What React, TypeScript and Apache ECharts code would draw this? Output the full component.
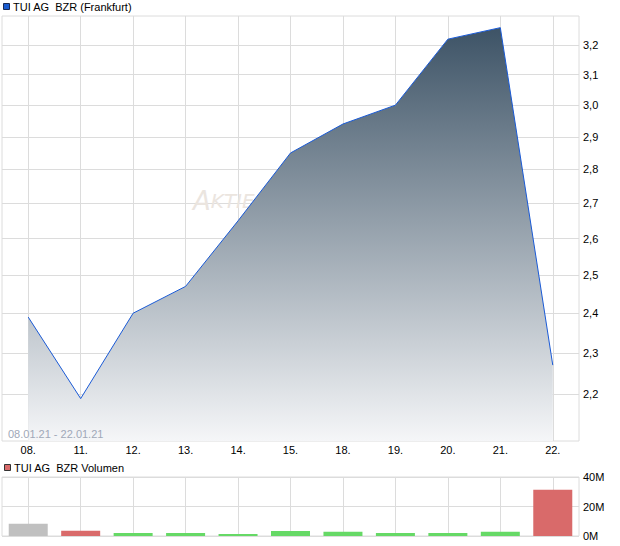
import React, { useEffect, useRef } from 'react';
import * as echarts from 'echarts';

const dates = ['08.', '11.', '12.', '13.', '14.', '15.', '18.', '19.', '20.', '21.', '22.'];
const prices = [2.39, 2.19, 2.4, 2.47, 2.65, 2.85, 2.94, 3.0, 3.22, 3.26, 2.27];
const volumesM = [8.3, 3.5, 2.1, 2.1, 1.4, 3.4, 2.8, 2.1, 2.1, 2.8, 31.3];
const priceTicks = [2.2, 2.3, 2.4, 2.5, 2.6, 2.7, 2.8, 2.9, 3.0, 3.1, 3.2];
const priceMin = 2.0926;
const priceMax = 3.301;
const volumeMax = 40;
const volumeStep = 20;
const titleMain = 'TUI AG  BZR (Frankfurt)';
const titleVol = 'TUI AG  BZR Volumen';
const rangeLabel = '08.01.21 - 22.01.21';
const watermark = 'AKTIENCHECK';

const FONT = "'Liberation Sans', Arial, sans-serif";
const WM_FONT = "'DejaVu Sans', sans-serif";
const GRID_COLOR = '#dcdcdc';

export default function App() {
  const ref = useRef<HTMLDivElement>(null);
  useEffect(() => {
    if (!ref.current) return;
    const chart = echarts.init(ref.current, undefined, { renderer: 'svg' });
    const volColors = volumesM.map((_, i) =>
      i === 0 ? '#c0c0c0' : prices[i] >= prices[i - 1] ? '#66d966' : '#d96a6a'
    );
    const option: any = {
      animation: false,
      textStyle: { fontFamily: FONT },
      grid: [
        { left: 2, right: 41, top: 16, height: 425, show: true, borderColor: GRID_COLOR, borderWidth: 1 },
        { left: 2, right: 41, top: 477, height: 59, show: true, borderColor: GRID_COLOR, borderWidth: 1 },
      ],
      xAxis: [
        {
          type: 'category', gridIndex: 0, data: dates, boundaryGap: true,
          axisLine: { show: false },
          axisTick: { show: true, alignWithLabel: true, inside: true, length: 425, interval: 0, lineStyle: { color: GRID_COLOR } },
          axisLabel: { color: '#000', fontSize: 11, margin: 3, interval: 0, fontFamily: FONT },
          splitLine: { show: false },
        },
        {
          type: 'category', gridIndex: 1, data: dates, boundaryGap: true,
          axisLine: { show: false },
          axisTick: { show: true, alignWithLabel: true, inside: true, length: 59, interval: 0, lineStyle: { color: GRID_COLOR } },
          axisLabel: { show: false },
          splitLine: { show: false },
        },
      ],
      yAxis: [
        {
          type: 'log', gridIndex: 0, position: 'right', min: priceMin, max: priceMax, logBase: 10,
          axisLine: { show: false },
          axisTick: { show: false, customValues: priceTicks },
          axisLabel: {
            customValues: priceTicks, color: '#000', fontSize: 11, margin: 4, fontFamily: FONT,
            formatter: (v: number) => v.toFixed(1).replace('.', ','),
          },
          splitLine: { show: true, lineStyle: { color: GRID_COLOR } },
        },
        {
          type: 'value', gridIndex: 1, position: 'right', min: 0, max: volumeMax, interval: volumeStep,
          axisLine: { show: false }, axisTick: { show: false },
          axisLabel: { color: '#000', fontSize: 11, margin: 4, fontFamily: FONT, formatter: (v: number) => v + 'M' },
          splitLine: { show: true, lineStyle: { color: GRID_COLOR } },
        },
      ],
      series: [
        {
          type: 'line', xAxisIndex: 0, yAxisIndex: 0, data: prices, showSymbol: false, z: 2,
          lineStyle: { color: '#1a5ad6', width: 1 },
          areaStyle: {
            origin: 'start', opacity: 1,
            color: new echarts.graphic.LinearGradient(0, 0, 0, 1, [
              { offset: 0, color: '#3d5366' },
              { offset: 1, color: '#f5f6f8' },
            ]),
          },
        },
        {
          type: 'bar', xAxisIndex: 1, yAxisIndex: 1, barWidth: 39,
          data: volumesM.map((v, i) => ({ value: v, itemStyle: { color: volColors[i] } })),
        },
      ],
      graphic: [
        { type: 'rect', shape: { x: 3.5, y: 3.5, width: 6, height: 6 }, style: { fill: '#1a5cd0', stroke: '#1a2a55', lineWidth: 1 }, z: 10 },
        { type: 'text', x: 13, y: 7, style: { text: titleMain, fill: '#000', fontSize: 11, fontFamily: FONT, verticalAlign: 'middle' }, z: 10 },
        { type: 'rect', shape: { x: 4.5, y: 464.5, width: 6, height: 6 }, style: { fill: '#d96a6a', stroke: '#333', lineWidth: 1 }, z: 10 },
        { type: 'text', x: 14, y: 468, style: { text: titleVol, fill: '#000', fontSize: 11, fontFamily: FONT, verticalAlign: 'middle' }, z: 10 },
        { type: 'text', x: 8, y: 434, style: { text: rangeLabel, fill: '#a0a8b8', fontSize: 11, fontFamily: FONT, verticalAlign: 'middle' }, z: 10 },
        {
          type: 'text', x: 193, y: 214, z: 1,
          style: {
            text: '{a|A}{b|' + watermark.slice(1) + '}', fill: '#ebe5df', fontStyle: 'italic', fontFamily: WM_FONT,
            verticalAlign: 'bottom',
            rich: {
              a: { fontSize: 26, fill: '#ebe5df', fontStyle: 'italic', fontFamily: WM_FONT },
              b: { fontSize: 20, fill: '#ebe5df', fontStyle: 'italic', fontFamily: WM_FONT },
            },
          },
        },
      ],
    };
    chart.setOption(option);
    return () => chart.dispose();
  }, []);
  return (
    <div
      ref={ref}
      style={{ position: 'fixed', left: 0, top: 0, width: 620, height: 546, background: '#fff' }}
    />
  );
}
